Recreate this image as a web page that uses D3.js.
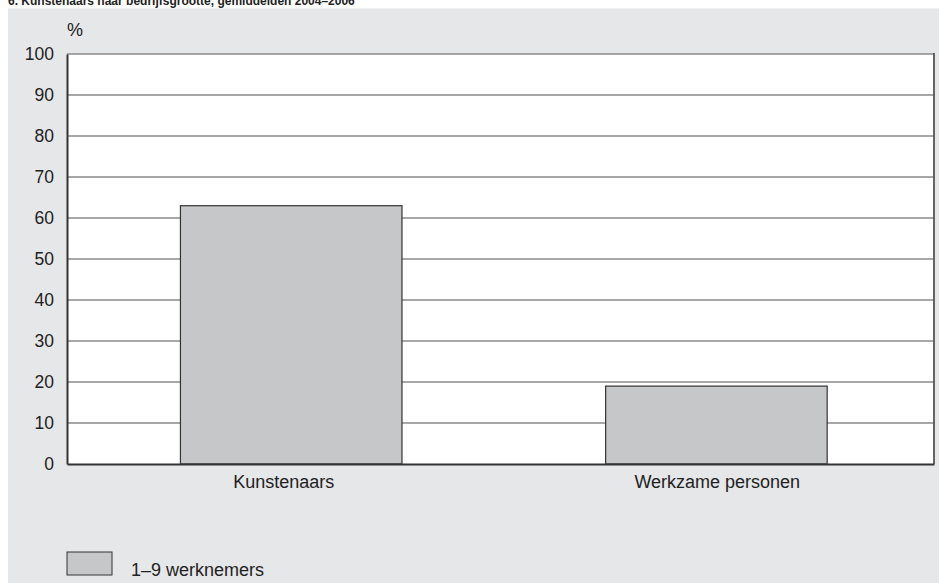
<!DOCTYPE html>
<html>
<head>
<meta charset="utf-8">
<script src="https://cdn.jsdelivr.net/npm/d3@7"></script>
<style>
  body { margin: 0; background: #fff; }
  svg { display: block; font-family: "Liberation Sans", Arial, sans-serif; }
</style>
</head>
<body>
<div id="chart"></div>
<script>
(function(){
  'use strict';

  // data
  var categories = ['Kunstenaars', 'Werkzame personen'];
  var values = [63, 19];
  var yTicks = [0, 10, 20, 30, 40, 50, 60, 70, 80, 90, 100];
  var seriesName = '1\u20139 werknemers';
  var title = '6. Kunstenaars naar bedrijfsgrootte, gemiddelden 2004\u20132006';

  var width = 939, height = 583;
  var plot = { left: 67, top: 54, right: 934, bottom: 464 };
  var fontSize = 18;

  var svg = d3.select('#chart').append('svg')
    .attr('width', width)
    .attr('height', height);

  // grey panel
  svg.append('rect')
    .attr('x', 8).attr('y', 8.5)
    .attr('width', width - 8).attr('height', height - 8.5)
    .attr('fill', '#e6e7e9');

  // title (top is cut off in the original)
  svg.append('text')
    .attr('x', 8).attr('y', 5)
    .attr('font-size', 12)
    .attr('font-weight', 'bold')
    .attr('fill', '#222')
    .text(title);

  // labels: centered bands
  var x = d3.scaleBand()
    .domain(categories)
    .range([plot.left, plot.right]);

  // bars: the first bar sits slightly right of its band centre
  var xBar = d3.scaleBand()
    .domain(categories)
    .range([plot.left, plot.right])
    .paddingInner(0.479)
    .paddingOuter(0.259)
    .align(0.515);

  var y = d3.scaleLinear()
    .domain([0, 100])
    .range([plot.bottom, plot.top]);

  // white plot area
  svg.append('rect')
    .attr('x', plot.left).attr('y', plot.top)
    .attr('width', plot.right - plot.left)
    .attr('height', plot.bottom - plot.top)
    .attr('fill', '#fff');

  // gridlines
  svg.append('g')
    .selectAll('line')
    .data(yTicks.filter(function(d){ return d > 0; }))
    .enter().append('line')
      .attr('x1', plot.left).attr('x2', plot.right)
      .attr('y1', function(d){ return y(d); })
      .attr('y2', function(d){ return y(d); })
      .attr('stroke', '#8a8a8a')
      .attr('stroke-width', 1.5);

  // bars
  svg.append('g')
    .selectAll('rect')
    .data(values)
    .enter().append('rect')
      .attr('x', function(d, i){ return xBar(categories[i]); })
      .attr('y', function(d){ return y(d); })
      .attr('width', xBar.bandwidth())
      .attr('height', function(d){ return y(0) - y(d); })
      .attr('fill', '#c6c7c9')
      .attr('stroke', '#333')
      .attr('stroke-width', 1.2);

  // right border
  svg.append('line')
    .attr('x1', plot.right).attr('x2', plot.right)
    .attr('y1', plot.top - 1).attr('y2', plot.bottom)
    .attr('stroke', '#555').attr('stroke-width', 1.8);

  // y axis
  var yAxis = svg.append('g')
    .attr('transform', 'translate(' + plot.left + ',0)')
    .call(d3.axisLeft(y).tickValues(yTicks).tickSize(0).tickPadding(13));
  yAxis.select('.domain').attr('stroke', '#333').attr('stroke-width', 2);
  yAxis.selectAll('text')
    .attr('font-size', 17.5)
    .attr('font-family', '"Liberation Sans", Arial, sans-serif')
    .attr('fill', '#222');

  // x axis
  var xAxis = svg.append('g')
    .attr('transform', 'translate(0,' + plot.bottom + ')')
    .call(d3.axisBottom(x).tickSize(0).tickPadding(11));
  xAxis.select('.domain').attr('stroke', '#333').attr('stroke-width', 2);
  xAxis.selectAll('text')
    .attr('font-size', fontSize)
    .attr('font-family', '"Liberation Sans", Arial, sans-serif')
    .attr('fill', '#222');

  // unit label
  svg.append('text')
    .attr('x', 67).attr('y', 36)
    .attr('font-size', fontSize)
    .attr('fill', '#222')
    .text('%');

  // legend
  svg.append('rect')
    .attr('x', 67).attr('y', 552)
    .attr('width', 45).attr('height', 23)
    .attr('fill', '#c6c7c9')
    .attr('stroke', '#333')
    .attr('stroke-width', 1);
  svg.append('text')
    .attr('x', 131).attr('y', 576)
    .attr('font-size', fontSize)
    .attr('fill', '#222')
    .text(seriesName);

})();
</script>
</body>
</html>
